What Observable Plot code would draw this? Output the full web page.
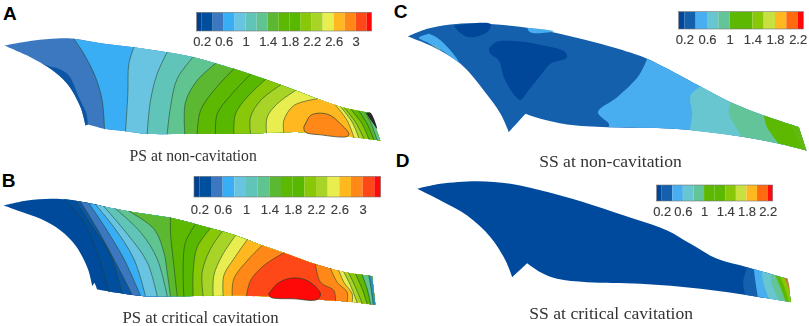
<!DOCTYPE html>
<html><head><meta charset="utf-8">
<style>html,body{margin:0;padding:0;background:#fff}svg{display:block}.soft{filter:blur(.6px)}.softtxt{filter:blur(.3px)}</style>
<script src="https://cdn.jsdelivr.net/npm/d3@7"></script>
<script src="https://cdn.jsdelivr.net/npm/@observablehq/plot@0.6"></script>
</head><body><div id="chart"></div>
<script>
// Coordinates in a 3x grid, relative to each panel's origin.
const paletteLong = ["#00408f","#004f9f","#3b78c0","#3aaef5","#68c4e0","#60c4b8","#60c490","#5cb830","#5cb800","#58b800","#88c808","#a8d428","#e8ee50","#ffb820","#ff8818","#ff4818","#ff0808"];
const paletteShort = ["#00479a","#1460ac","#48aef0","#68c6d0","#62c498","#5cb800","#5cb800","#88c808","#c8e040","#ffb820","#ff6a10","#ff0808"];
const ticksLong = ["0.2","0.6","1","1.4","1.8","2.2","2.6","3"];
const ticksShort = ["0.2","0.6","1","1.4","1.8","2.2"];

const topA = [[12,135],[100,120],[170,114],[220,115],[300,128],[400,140],[500,155],[580,170],[700,205],[790,235],[880,268],[950,295],[1030,322],[1110,338]];
const botA = [[1140,420],[1040,408],[900,395],[780,398],[600,400],[440,400],[375,392],[310,385],[285,378],[262,372],[255,375],[240,320],[200,250],[150,205],[80,165]];
const cutsA = [
 ["#3aaef5",[[220,0],[250,160],[285,230],[305,300],[312,0]]],
 ["#68c4e0",[[400,0],[385,190],[382,280],[375,0]]],
 ["#60c4b8",[[500,0],[470,220],[450,300],[440,0]]],
 ["#60c490",[[578,0],[530,235],[510,320],[500,0]]],
 ["#5cb830",[[645,0],[590,240],[555,305],[553,0]]],
 ["#5cb800",[[700,0],[640,270],[600,330],[590,0]]],
 ["#58b800",[[750,0],[690,285],[650,340],[645,0]]],
 ["#88c808",[[795,0],[740,290],[705,340],[700,0]]],
 ["#a8d428",[[840,0],[780,300],[750,350],[750,0]]],
 ["#e8ee50",[[885,0],[830,310],[800,350],[798,0]]],
 ["#ffb820",[[950,0],[880,315],[850,360],[850,0]]],
 ["#e8ee50",[[1005,0],[1040,360],[1060,0]]],
 ["#a8d428",[[1020,0],[1055,365],[1075,0]]],
 ["#88c808",[[1032,0],[1065,365],[1090,0]]],
 ["#5cb800",[[1050,0],[1085,370],[1105,0]]],
 ["#5cb830",[[1075,0],[1100,370],[1120,0]]],
 ["#60c490",[[1095,0],[1110,365],[1130,0]]]
];
const islandsA = [
 ["#0c55a5",[[12,135],[12,135],[80,165],[150,205],[200,250],[240,320],[255,375],[255,375],[262,372],[262,372],[258,340],[235,290],[205,225],[175,205],[140,195],[90,170],[50,150]],false],
 ["#ff8818",[[915,370],[930,345],[960,338],[990,345],[1020,370],[1045,400],[1040,408],[960,403],[915,395],[910,380]],true],
 ["#2a2a28",[[1097,338],[1110,337],[1130,385],[1115,365]],false]
];
const topB = [[10,120],[80,105],[150,100],[200,102],[260,112],[320,125],[400,140],[510,157],[600,180],[700,208],[780,238],[850,262],[950,298],[1040,322],[1115,332]];
const botB = [[1125,418],[1040,408],[960,403],[850,395],[700,390],[550,392],[430,392],[350,382],[290,372],[282,352],[275,362],[262,310],[225,240],[180,195],[120,160],[60,138]];
const cutsB = [
 ["#004f9f",[[190,0],[250,170],[300,290],[325,0]]],
 ["#0d58a6",[[225,0],[270,175],[330,270],[365,0]]],
 ["#3b78c0",[[240,0],[290,190],[350,300],[395,0]]],
 ["#3aaef5",[[265,0],[310,180],[370,280],[420,0]]],
 ["#68c4e0",[[285,0],[340,185],[400,280],[435,0]]],
 ["#60c4b8",[[310,0],[380,205],[440,290],[470,0]]],
 ["#60c490",[[345,0],[420,200],[470,280],[500,0]]],
 ["#5cb830",[[385,0],[460,190],[490,260],[500,320],[510,0]]],
 ["#5cb800",[[510,0],[510,200],[520,300],[530,0]]],
 ["#58b800",[[585,0],[555,230],[548,300],[550,0]]],
 ["#88c808",[[630,0],[590,245],[578,320],[578,0]]],
 ["#a8d428",[[665,0],[630,250],[605,320],[608,0]]],
 ["#e8ee50",[[705,0],[665,270],[640,330],[638,0]]],
 ["#ffb820",[[740,0],[700,280],[670,330],[668,0]]],
 ["#ff8818",[[785,0],[745,280],[700,340],[695,0]]],
 ["#ff4818",[[850,0],[790,300],[750,345],[738,0]]],
 ["#ff8818",[[945,0],[960,350],[1000,375],[1005,0]]],
 ["#ffb820",[[990,0],[1010,350],[1040,380],[1040,0]]],
 ["#e8ee50",[[1015,0],[1030,350],[1055,385],[1055,0]]],
 ["#a8d428",[[1030,0],[1050,360],[1070,0]]],
 ["#88c808",[[1045,0],[1065,365],[1085,0]]],
 ["#5cb800",[[1065,0],[1085,370],[1100,0]]],
 ["#60c490",[[1085,0],[1100,370],[1110,0]]],
 ["#2a90c0",[[1105,0],[1112,370],[1118,0]]]
];
const islandsB = [
 ["#ff0808",[[805,385],[830,355],[870,338],[920,345],[960,385],[950,402],[880,400],[810,395]],true]
];
const topC = [[22,108],[80,85],[150,72],[220,68],[300,73],[400,85],[500,105],[600,130],[700,160],[740,175],[820,215],[900,258],[990,305],[1090,345],[1195,380]];
const botC = [[1218,450],[1130,428],[1020,408],[860,388],[740,382],[620,380],[500,372],[420,355],[375,340],[325,395],[300,340],[250,270],[180,190],[100,140]];
const cutsC = [
 ["#48aef0",[[740,0],[715,225],[650,290],[592,335],[625,370],[625,0]]],
 ["#68c6d0",[[900,0],[870,285],[875,340],[868,0]]],
 ["#62c498",[[990,0],[985,340],[1000,370],[1025,0]]],
 ["#5cb800",[[1090,0],[1100,380],[1135,0]]],
 ["#60ba12",[[1170,0],[1190,410],[1205,0]]]
];
const islandsC = [
 ["#00479a",[[160,75],[270,70],[265,90],[240,105],[205,110],[180,98]],false],
 ["#00479a",[[265,145],[285,125],[350,122],[430,135],[495,155],[498,172],[450,190],[420,225],[380,275],[360,298],[335,275],[310,230],[295,180],[270,160]],false],
 ["#48aef0",[[85,100],[110,112],[150,150],[175,185],[125,150],[85,128],[55,112]],false],
 ["#7ec8a0",[[85,130],[110,140],[125,152],[105,140]],false],
 ["#48aef0",[[380,82],[460,92],[440,96],[400,98],[385,92]],false]
];
const topD = [[50,70],[120,55],[230,47],[330,55],[450,82],[580,120],[700,160],[800,195],[870,235],[950,280],[1040,305],[1160,340]];
const botD = [[1172,410],[1060,392],[900,370],[720,355],[560,350],[470,340],[420,320],[380,293],[335,335],[315,285],[270,215],[200,150],[120,105]];
const cutsD = [
 ["#1460ac",[[1040,0],[1028,350],[1035,0]]],
 ["#48aef0",[[1060,0],[1065,350],[1072,0]]],
 ["#68c6d0",[[1085,0],[1088,350],[1105,0]]],
 ["#62c498",[[1110,0],[1115,360],[1135,0]]],
 ["#5cb800",[[1125,0],[1140,365],[1155,0]]],
 ["#88c808",[[1140,0],[1152,365],[1165,0]]]
];
const islandsD = [["#c08040",[[1150,337],[1160,340],[1168,380],[1158,352]],false]];

const panels = [
 {letter:"A",caption:"PS at non-cavitation",ox:0,oy:0,base:"#3b78c0",top:topA,bot:botA,cuts:cutsA,islands:islandsA,line:"#23402c",lw:.7,ly:[37,93],lt:125,lett:[28,40],capt:[578,465],cap:15.7,zero:605,step:33,palette:paletteLong,ticks:ticksLong,ends:[590,1115],split:7,sharp:[9,10]},
 {letter:"B",caption:"PS at critical cavitation",ox:0,oy:495,base:"#004a9c",top:topB,bot:botB,cuts:cutsB,islands:islandsB,line:"#23402c",lw:.7,ly:[34,96],lt:132,lett:[24,45],capt:[600,455],cap:16.8,zero:598,step:35,palette:paletteLong,ticks:ticksLong,ends:[582,1142],split:7,sharp:[8,9,10]},
 {letter:"C",caption:"SS at non-cavitation",ox:1200,oy:0,base:"#1460ac",top:topC,bot:botC,cuts:cutsC,islands:islandsC,line:null,lw:0,ly:[35,87],lt:118,lett:[0,33],capt:[630,483],cap:17.6,zero:853,step:34,palette:paletteShort,ticks:ticksShort,ends:[836,1210],split:7,sharp:[8,9]},
 {letter:"D",caption:"SS at critical cavitation",ox:1200,oy:495,base:"#004a9e",top:topD,bot:botD,cuts:cutsD,islands:islandsD,line:null,lw:0,ly:[60,108],lt:138,lett:[6,-15],capt:[632,443],cap:17.6,zero:785,step:31.8,palette:paletteShort,ticks:ticksShort,ends:[770,1118],split:6,sharp:[7,8]}
];

const interp = (edge, x) => {
  const e = [...edge].sort((a,b)=>a[0]-b[0]);
  for (let i=1;i<e.length;i++) if (x<=e[i][0]) { const t=(x-e[i-1][0])/(e[i][0]-e[i-1][0]); return e[i-1][1]+t*(e[i][1]-e[i-1][1]); }
  return e[e.length-1][1];
};
const marksFill = [], texts = [], legend = [];
const X = d=>d[0], Y = d=>d[1];
const curve = "catmull-rom";
const twice = pt => [pt,pt];   // a repeated vertex keeps the curve's corner sharp
for (const p of panels) {
  const shift = pts => pts.map(([x,y])=>[x+p.ox,y+p.oy]);
  const rightBot = p.bot.slice(0,p.split+1);   // the trailing part of the lower edge, right of the notch
  const last = p.top[p.top.length-1], tip = p.bot[0];
  const baseBot = p.bot.flatMap((d,i)=> (i===0||p.sharp.includes(i)) ? twice(d) : [d]);
  marksFill.push(Plot.line(shift([...twice(p.top[0]),...p.top.slice(1,-1),...twice(last),...baseBot,...twice(p.top[0])]),{x:X,y:Y,curve,fill:p.base,stroke:"none",className:"soft"}));
  const drawn = [];
  for (const [color,raw] of p.cuts) {
    const cut = raw.map(d=>[...d]);
    cut[0][1] = interp(p.top,cut[0][0]);
    const n = cut.length-1;
    cut[n][1] = interp(rightBot,cut[n][0]);
    const poly = [...twice(cut[0]),...cut.slice(1,-1),...twice(cut[n]),
      ...rightBot.slice(1).filter(d=>d[0]>cut[n][0]+6).sort((a,b)=>a[0]-b[0]),
      ...twice(tip),...twice(last),
      ...p.top.slice(0,-1).filter(d=>d[0]>cut[0][0]+6).sort((a,b)=>b[0]-a[0]),...twice(cut[0])];
    marksFill.push(Plot.line(shift(poly),{x:X,y:Y,curve,fill:color,stroke:"none",className:"soft"}));
    drawn.push(cut);
  }
  for (const [color,pts,outlined] of p.islands) {
    marksFill.push(Plot.line(shift([...pts,pts[0]]),{x:X,y:Y,curve,fill:color,stroke:outlined?p.line:"none",strokeWidth:p.lw,className:"soft"}));
  }
  if (p.line) for (const c of drawn) marksFill.push(Plot.line(shift(c),{x:X,y:Y,curve,stroke:p.line,strokeWidth:p.lw,strokeOpacity:.8,className:"soft"}));
  // colour bar
  const [lx0,lx1] = p.ends, [ly0,ly1] = p.ly;
  const edges = [lx0,...p.palette.slice(1).map((_,i)=>p.zero+i*p.step),lx1];
  const rows = p.palette.map((c,i)=>({x1:edges[i]+p.ox,x2:edges[i+1]+p.ox,y1:ly0+p.oy,y2:ly1+p.oy,c}));
  legend.push(Plot.rect(rows,{x1:"x1",x2:"x2",y1:"y1",y2:"y2",fill:"c",className:"softtxt"}));
  legend.push(Plot.rect([rows[0]],{x1:()=>lx0+p.ox,x2:()=>lx1+p.ox,y1:"y1",y2:"y2",stroke:"#777",strokeWidth:.6,fill:"none",className:"softtxt"}));
  texts.push(Plot.text(p.ticks,{x:(d,i)=>p.zero+i*2*p.step+p.ox,y:()=>p.lt+p.oy,text:d=>d,fontFamily:"Liberation Sans",fontSize:13,fill:"#3c3c3c",stroke:"#3c3c3c",strokeWidth:.15,className:"softtxt"}));
  texts.push(Plot.text([p.letter],{x:()=>p.lett[0]+p.ox,y:()=>p.lett[1]+p.oy,text:d=>d,fontFamily:"Liberation Sans",fontWeight:"bold",fontSize:19,fill:"#000"}));
  texts.push(Plot.text([p.caption],{x:()=>p.capt[0]+p.ox,y:()=>p.capt[1]+p.oy,text:d=>d,fontFamily:"Liberation Serif",fontSize:p.cap,fill:"#333",className:"softtxt"}));
}
const fig = Plot.plot({
  width:809,height:326,margin:0,style:{background:"#fff"},
  x:{domain:[0,2427],range:[0,809],axis:null},
  y:{domain:[0,978],range:[0,326],axis:null},
  color:{type:"identity"},
  marks:[...marksFill,...legend,...texts]
});
document.getElementById("chart").append(fig);
</script></body></html>
